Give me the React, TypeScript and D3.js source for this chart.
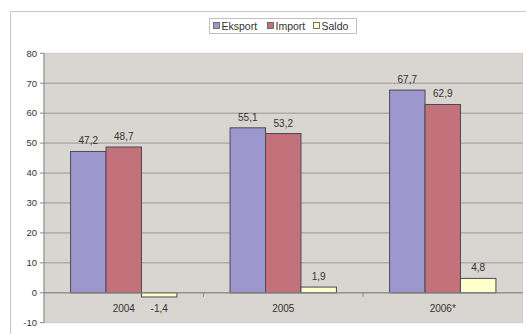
import React from "react";
import * as d3 from "d3";

const categories = ["2004", "2005", "2006*"];
const seriesNames = ["Eksport", "Import", "Saldo"];
const eksport = [47.2, 55.1, 67.7];
const importV = [48.7, 53.2, 62.9];
const saldo = [-1.4, 1.9, 4.8];
const yTicks = [-10, 0, 10, 20, 30, 40, 50, 60, 70, 80];
const colors = ["#9c98cd", "#c3717a", "#ffffcc"];

const W = 526, H = 334;
const plot = { left: 44, right: 522.5, top: 53.3, bottom: 322.7 };

export default function App() {
  const values = [eksport, importV, saldo];
  const y = d3.scaleLinear().domain([-10, 80]).range([plot.bottom, plot.top]);
  const x0 = d3.scaleBand().domain(categories).range([plot.left, plot.right]).paddingInner(0).paddingOuter(0);
  const bw = x0.bandwidth();
  const barW = bw * 2 / 9;
  const groupOff = (bw - 3 * barW) / 2;
  const fmt = (v: number) => String(v).replace(".", ",");
  const font = "'Liberation Sans', Arial, sans-serif";
  const textCol = "#333";

  return (
    <svg width={W} height={H} style={{ position: "absolute", left: 0, top: 0 }} fontFamily={font}>
      <rect x={0} y={0} width={W} height={H} fill="#fff" />
      <rect x={10.5} y={11.5} width={530} height={340} fill="#fff" stroke="#c8c8c8" strokeWidth={1} />
      <rect x={plot.left} y={plot.top} width={plot.right - plot.left} height={plot.bottom - plot.top} fill="#d9d5d1" stroke="#cfcbc8" />
      {yTicks.map((t) => (
        <g key={t}>
          {t !== -10 && t !== 80 && (
            <line x1={plot.left} x2={plot.right} y1={y(t)} y2={y(t)} stroke="#9a9896" strokeWidth={1} />
          )}
          <line x1={plot.left - 4} x2={plot.left} y1={y(t)} y2={y(t)} stroke="#888" />
          <text x={37} y={y(t)} dy="0.35em" textAnchor="end" fontSize={9.5} fill={textCol}>{t}</text>
        </g>
      ))}
      <line x1={plot.left} x2={plot.left} y1={plot.top} y2={plot.bottom} stroke="#888" />
      {categories.map((c, i) => (
        <g key={c}>
          {values.map((vals, s) => {
            const v = vals[i];
            const bx = (x0(c) as number) + groupOff + s * barW;
            const y1 = Math.min(y(v), y(0));
            const h = Math.abs(y(v) - y(0));
            return (
              <g key={s}>
                <rect x={bx} y={y1} width={barW} height={h} fill={colors[s]} stroke="#4a4a55" strokeWidth={1} />
                <text x={bx + barW / 2} y={v >= 0 ? y(v) - 7 : y(0) + 19} textAnchor="middle" fontSize={10} fill={textCol}>{fmt(v)}</text>
              </g>
            );
          })}
          <text x={(x0(c) as number) + bw / 2} y={y(0) + 19} textAnchor="middle" fontSize={10} fill={textCol}>{c}</text>
        </g>
      ))}
      <line x1={plot.left} x2={plot.right} y1={y(0)} y2={y(0)} stroke="#8a8886" />
      {categories.slice(1).map((c) => (
        <line key={c} x1={x0(c) as number} x2={x0(c) as number} y1={y(0)} y2={y(0) + 4} stroke="#8a8886" />
      ))}
      <g>
        <rect x={209.5} y={18.5} width={147} height={15} fill="#fff" stroke="#c0c0c0" />
        {seriesNames.map((n, i) => {
          const xs = [213, 267, 313][i];
          return (
            <g key={n}>
              <rect x={xs + 0.5} y={22.5} width={6} height={6} fill={colors[i]} stroke="#555" strokeWidth={0.8} />
              <text x={xs + 8.5} y={29.5} fontSize={10.5} fill={textCol}>{n}</text>
            </g>
          );
        })}
      </g>
    </svg>
  );
}
